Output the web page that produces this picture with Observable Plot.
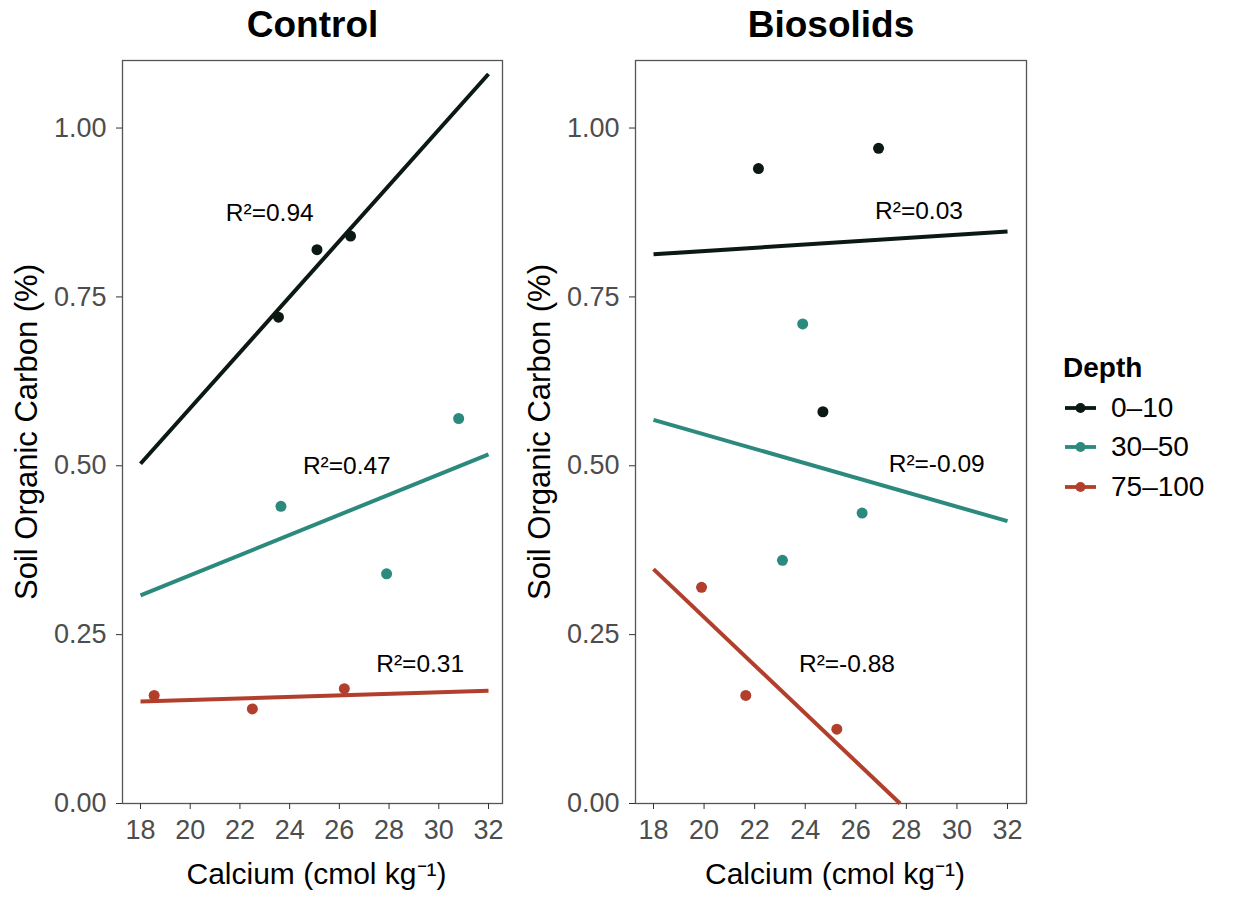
<!DOCTYPE html>
<html>
<head>
<meta charset="utf-8">
<script src="https://cdn.jsdelivr.net/npm/d3@7"></script>
<script src="https://cdn.jsdelivr.net/npm/@observablehq/plot@0.6"></script>
<style>
  html, body { margin: 0; padding: 0; background: white; }
  #wrap { position: relative; width: 1243px; height: 897px; font-family: "Liberation Sans", Arial, sans-serif; }
  .panel { position: absolute; top: 0; }
  #legend { position: absolute; left: 1063px; top: 348px; }
  #legend .ttl { font-weight: bold; font-size: 28px; line-height: 40px; }
  #legend .row { display: flex; align-items: center; height: 39.5px; }
  #legend .row span { font-size: 28px; margin-left: 14px; }
</style>
</head>
<body>
<div id="wrap">
  <div id="left" class="panel" style="left:0px"></div>
  <div id="right" class="panel" style="left:513px"></div>
  <div id="legend"></div>
</div>
<script>
// ---- data ----
const depthLevels = ["0–10", "30–50", "75–100"];
const depthColors = ["#0c1912", "#2b8a7d", "#b23f2b"];
const xTicks = [18, 20, 22, 24, 26, 28, 30, 32];
const yTicks = [0, 0.25, 0.5, 0.75, 1.0];

// Control panel
const ctrlPointDepth = ["0–10", "0–10", "0–10", "30–50", "30–50", "30–50", "75–100", "75–100", "75–100"];
const ctrlPointCa    = [23.55, 25.1, 26.45, 23.65, 27.9, 30.8, 18.55, 22.5, 26.2];
const ctrlPointSOC   = [0.72, 0.82, 0.84, 0.44, 0.34, 0.57, 0.16, 0.14, 0.17];
const ctrlFitDepth   = ["0–10", "30–50", "75–100"];
const ctrlFitCaFrom  = [18, 18, 18];
const ctrlFitCaTo    = [32, 32, 32];
const ctrlFitSOCFrom = [0.503, 0.308, 0.151];
const ctrlFitSOCTo   = [1.08, 0.517, 0.167];
const ctrlR2Text     = ["R²=0.94", "R²=0.47", "R²=0.31"];
const ctrlR2Ca       = [23.2, 26.3, 29.25];
const ctrlR2SOC      = [0.874, 0.50, 0.207];

// Biosolids panel
const bioPointDepth = ["0–10", "0–10", "0–10", "30–50", "30–50", "30–50", "75–100", "75–100", "75–100"];
const bioPointCa    = [22.15, 26.9, 24.7, 23.9, 26.25, 23.1, 19.9, 21.65, 25.25];
const bioPointSOC   = [0.94, 0.97, 0.58, 0.71, 0.43, 0.36, 0.32, 0.16, 0.11];
const bioFitDepth   = ["0–10", "30–50", "75–100"];
const bioFitCaFrom  = [18, 18, 18];
const bioFitCaTo    = [32, 32, 27.75];
const bioFitSOCFrom = [0.813, 0.568, 0.347];
const bioFitSOCTo   = [0.847, 0.418, 0.0];
const bioR2Text     = ["R²=0.03", "R²=-0.09", "R²=-0.88"];
const bioR2Ca       = [28.5, 29.2, 25.65];
const bioR2SOC      = [0.877, 0.502, 0.207];

const FONT = "'Liberation Sans', Arial, Helvetica, sans-serif";

function panel(o) {
  const points = o.ptCa.map((c, i) => ({ca: c, soc: o.ptSOC[i], depth: o.ptDepth[i]}));
  const fits = o.fitDepth.map((d, i) => ({depth: d, x1: o.caFrom[i], x2: o.caTo[i], y1: o.socFrom[i], y2: o.socTo[i]}));
  const labels = o.r2Text.map((t, i) => ({text: t, ca: o.r2Ca[i], soc: o.r2SOC[i]}));
  return Plot.plot({
    width: o.width, height: 897,
    marginLeft: 122, marginRight: 8, marginTop: 60, marginBottom: 94,
    style: {fontFamily: FONT, background: "white", color: "black", overflow: "visible"},
    x: {domain: o.xDomain},
    y: {domain: [0, 1.1]},
    color: {domain: depthLevels, range: depthColors},
    marks: [
      Plot.frame({stroke: "#555", strokeWidth: 1.3}),
      Plot.axisX(xTicks, {tickSize: 6, tickPadding: 10, fontSize: 27, fill: "#4d4d4d", stroke: "#333", label: null}),
      Plot.axisY(yTicks, {tickSize: 6, tickPadding: 10, fontSize: 27, fill: "#4d4d4d", stroke: "#333", label: null, tickFormat: d => d.toFixed(2)}),
      Plot.dot(points, {x: "ca", y: "soc", fill: "depth", r: 5.5}),
      Plot.link(fits, {x1: "x1", y1: "y1", x2: "x2", y2: "y2", stroke: "depth", strokeWidth: 4}),
      Plot.text(labels, {x: "ca", y: "soc", text: "text", fontSize: 24.5, fill: "black"}),
      Plot.text([o.title], {frameAnchor: "top", lineAnchor: "middle", dy: -35, fontSize: 37, fontWeight: "bold", fill: "black"}),
      Plot.text(["Calcium (cmol kg⁻¹)"], {frameAnchor: "bottom", lineAnchor: "middle", dy: 71, dx: 4, fontSize: 30, fill: "black"}),
      Plot.text(["Soil Organic Carbon (%)"], {frameAnchor: "left", textAnchor: "middle", lineAnchor: "middle", dx: -95, rotate: -90, fontSize: 31, fill: "black"})
    ]
  });
}

document.getElementById("left").appendChild(panel({
  title: "Control", width: 510, xDomain: [17.276, 32.563],
  ptCa: ctrlPointCa, ptSOC: ctrlPointSOC, ptDepth: ctrlPointDepth,
  fitDepth: ctrlFitDepth, caFrom: ctrlFitCaFrom, caTo: ctrlFitCaTo, socFrom: ctrlFitSOCFrom, socTo: ctrlFitSOCTo,
  r2Text: ctrlR2Text, r2Ca: ctrlR2Ca, r2SOC: ctrlR2SOC
}));
document.getElementById("right").appendChild(panel({
  title: "Biosolids", width: 521, xDomain: [17.288, 32.751],
  ptCa: bioPointCa, ptSOC: bioPointSOC, ptDepth: bioPointDepth,
  fitDepth: bioFitDepth, caFrom: bioFitCaFrom, caTo: bioFitCaTo, socFrom: bioFitSOCFrom, socTo: bioFitSOCTo,
  r2Text: bioR2Text, r2Ca: bioR2Ca, r2SOC: bioR2SOC
}));

// legend
const leg = document.getElementById("legend");
const ttl = document.createElement("div");
ttl.className = "ttl";
ttl.textContent = "Depth";
leg.appendChild(ttl);
depthLevels.forEach((d, i) => {
  const row = document.createElement("div");
  row.className = "row";
  const ns = "http://www.w3.org/2000/svg";
  const svg = document.createElementNS(ns, "svg");
  svg.setAttribute("width", 34); svg.setAttribute("height", 20);
  const ln = document.createElementNS(ns, "line");
  ln.setAttribute("x1", 2); ln.setAttribute("x2", 33); ln.setAttribute("y1", 10); ln.setAttribute("y2", 10);
  ln.setAttribute("stroke", depthColors[i]); ln.setAttribute("stroke-width", 3.8);
  const c = document.createElementNS(ns, "circle");
  c.setAttribute("cx", 17.5); c.setAttribute("cy", 10); c.setAttribute("r", 5); c.setAttribute("fill", depthColors[i]);
  svg.appendChild(ln); svg.appendChild(c);
  const sp = document.createElement("span");
  sp.textContent = d;
  row.appendChild(svg); row.appendChild(sp);
  leg.appendChild(row);
});
</script>
</body>
</html>
